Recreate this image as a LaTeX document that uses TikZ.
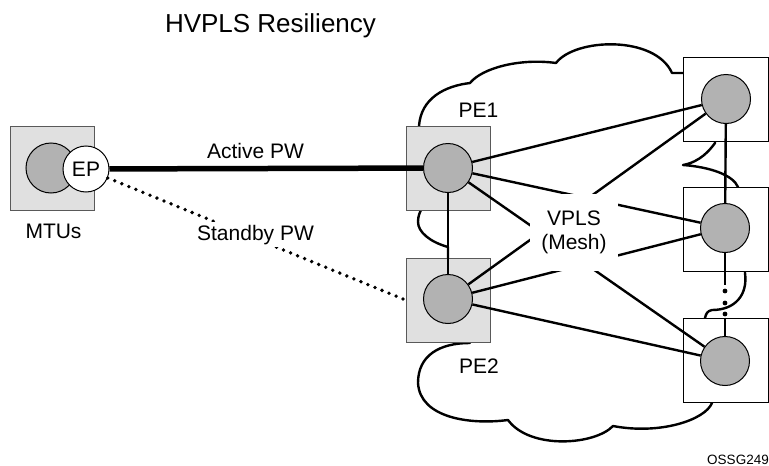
\documentclass[tikz,border=0pt]{standalone}
\usepackage{fontspec}
\setmainfont{Liberation Sans}
\usetikzlibrary{positioning, calc}

\begin{document}
\begin{tikzpicture}[
    x=1pt, y=-1pt,
    lbl/.style={font=\fontsize{21}{24}\selectfont},
    graybox/.style={rectangle, draw=black!65, fill=black!12, minimum size=84pt, line width=1pt},
    whitebox/.style={rectangle, draw, fill=white, minimum width=85pt, minimum height=84pt, line width=1pt},
    dev/.style={circle, draw, fill=black!30, minimum size=49pt, inner sep=0pt, line width=1pt},
    link/.style={line width=2.4pt},
    cloudline/.style={line width=2.4pt, line join=round},
    standby/.style={line width=3.8pt, line cap=round, dash pattern=on 0pt off 7.6pt}
]
\useasboundingbox (0,0) rectangle (769,466);

\draw[cloudline] (419,150) -- (419,126)
    .. controls (421,98) and (445,86) .. (470,83)
    .. controls (482,68) and (520,58) .. (556,63)
    .. controls (575,38) and (655,35) .. (672,73)
    -- (700,73) -- (715,120) -- (715,143)
    .. controls (710,150) and (700,162) .. (683,165)
    .. controls (710,167) and (733,175) .. (738,187)
    -- (738,220) -- (745,250) -- (745,273)
    .. controls (748,295) and (735,310) .. (712,310)
    .. controls (707,311) and (706,314) .. (705,318)
    -- (705,350) -- (712,380) -- (712,403)
    .. controls (705,420) and (660,435) .. (613,426)
    .. controls (595,445) and (530,450) .. (508,420)
    .. controls (470,425) and (420,418) .. (418,383)
    .. controls (418,355) and (440,343) .. (470,343)
    -- (470,320) -- (448,270) -- (448,247)
    .. controls (430,242) and (418,232) .. (418,222)
    .. controls (418,216) and (420,212) .. (421,210)
    -- cycle;

\node[font=\fontsize{26}{30}\selectfont, anchor=base] (title) at (270.5,32) {HVPLS Resiliency};

\node[graybox] (mtubox) at (52,168) {};
\node[dev, minimum size=50pt] (mtu) at (51,168) {};
\node[circle, draw, fill=white, minimum size=46pt, inner sep=0pt, line width=1pt, lbl] (ep) at (86,169) {EP};
\node[lbl, anchor=base] (mtulbl) at (53.5,238) {MTUs};

\node[graybox] (pe1box) at (448,168) {};
\node[dev] (pe1) at (448,168) {};
\node[lbl, anchor=base] (pe1lbl) at (478.5,117) {PE1};

\node[graybox] (pe2box) at (448,300) {};
\node[dev] (pe2) at (448,299) {};
\node[lbl, anchor=base] (pe2lbl) at (479,373) {PE2};

\node[whitebox] (r1box) at (725.5,99) {};
\node[dev] (r1) at (726,99) {};
\node[whitebox] (r2box) at (725.5,229) {};
\node[dev] (r2) at (725,228) {};
\node[whitebox] (r3box) at (725.5,360) {};
\node[dev] (r3) at (725,361) {};

\draw[line width=5.5pt] (ep) -- (pe1);
\node[lbl, anchor=base] (active) at (255.5,158) {Active PW};
\draw[standby] (ep) -- (pe2box.west);
\node[lbl, anchor=base, fill=white, inner sep=3pt] (standbylbl) at (255.5,240) {Standby PW};

\draw[link] (pe1) -- (pe2);
\draw[link] (pe1) -- (r1);
\draw[link] (pe1) -- (r2);
\draw[link] (pe1) -- (r3);
\draw[link] (pe2) -- (r1);
\draw[link] (pe2) -- (r2);
\draw[link] (pe2) -- (r3);

\draw[link] (r1) -- (r2);
\coordinate (gapa) at (725,285);
\draw[link] (r2) -- (gapa);
\draw[link] (r3box.north -| r3) -- (r3);
\foreach \y in {291,303,314}
    \fill (725,\y) circle (2.4);

\node[lbl, fill=white, align=center, minimum width=88pt, minimum height=77pt] (vpls) at (574,232) {VPLS\\(Mesh)};

\node[font=\fontsize{13.5}{16}\selectfont, anchor=base] (fig) at (738,464) {OSSG249};
\end{tikzpicture}
\end{document}
